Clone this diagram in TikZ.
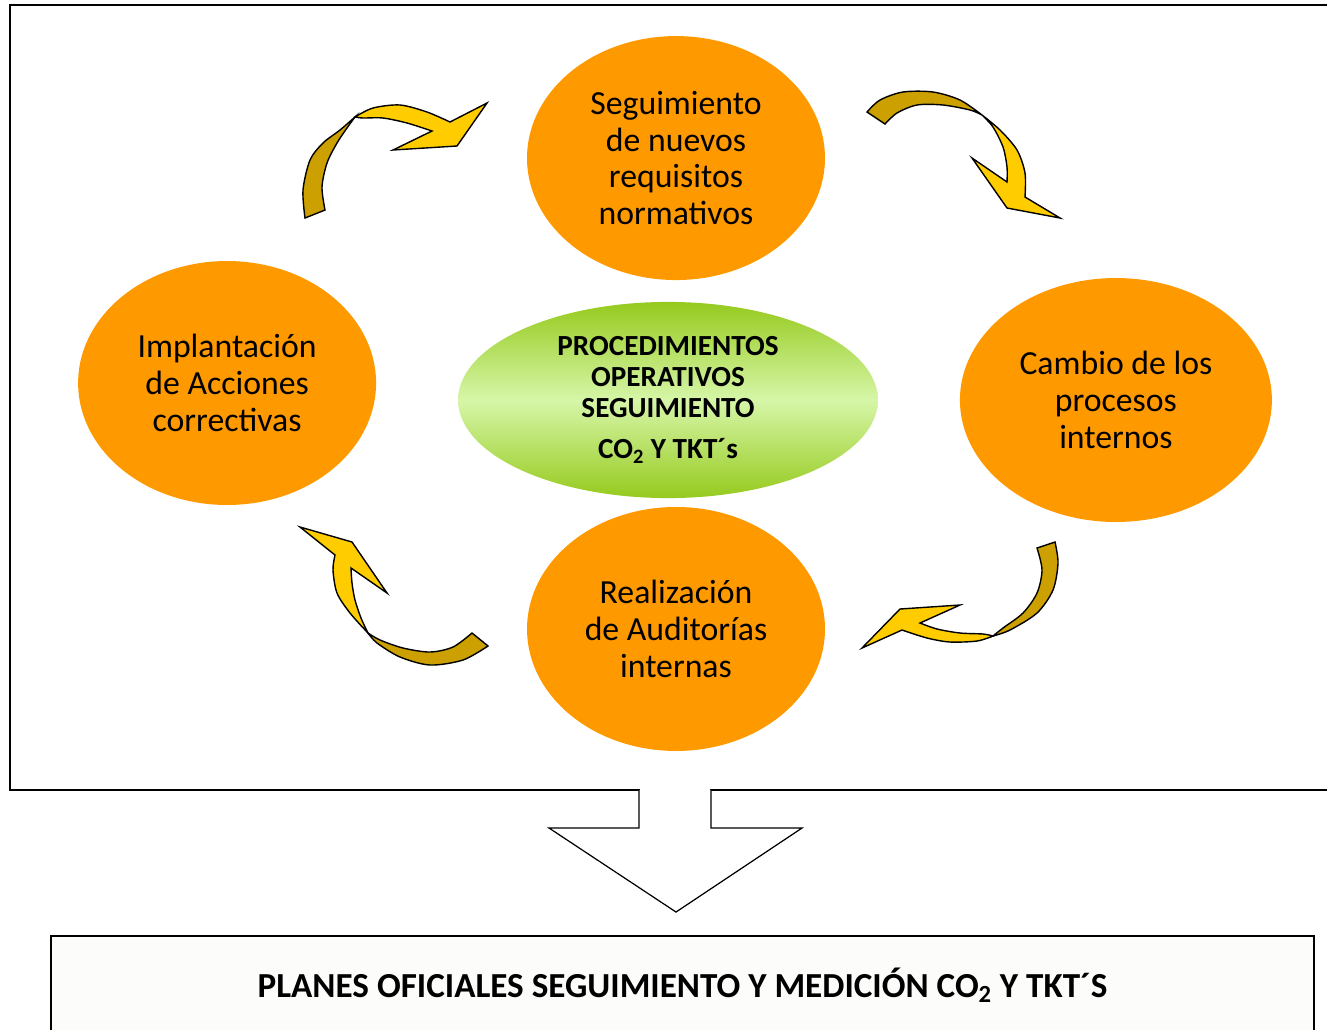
\documentclass[tikz,border=0pt]{standalone}
\usepackage{fontspec}
\setmainfont{Carlito}
\usepackage{tikz}
\usetikzlibrary{shapes.geometric,positioning}
\definecolor{naranja}{RGB}{255,153,0}
\definecolor{amarillo}{RGB}{255,204,0}
\definecolor{ocre}{RGB}{204,160,0}
\definecolor{verdeO}{RGB}{150,202,30}
\definecolor{verdeC}{RGB}{214,246,168}
\definecolor{caja}{RGB}{252,252,250}

\begin{document}
\begin{tikzpicture}[x=0.02cm,y=-0.02cm,node distance=2cm,on grid,
  stage/.style={ellipse,fill=naranja,minimum width=5.96cm,minimum height=4.88cm,
    align=center,font=\fontsize{19.2}{21}\selectfont},
  core/.style={ellipse,top color=verdeO,bottom color=verdeO,middle color=verdeC,
    minimum width=8.4cm,minimum height=3.92cm,align=center,
    font=\bfseries\fontsize{16.6}{17.6}\selectfont},
  flecha/.style={fill=amarillo,draw=black,line width=0.8pt},
  reves/.style={fill=ocre,draw=black,line width=0.8pt}]
  \useasboundingbox (0,0) rectangle (1327,1029);
  \clip (0,0) rectangle (1327,1029);

  \draw[line width=1.3pt] (10,5) rectangle (1345,790);

  \node[core] (n_proc) at (668,400) {PROCEDIMIENTOS\\OPERATIVOS\\SEGUIMIENTO\\[6pt]CO\textsubscript{2} Y TKT´s};
  \node[stage] (n_seg) [above right=4.84cm and 0.16cm of n_proc] {Seguimiento\\de nuevos\\requisitos\\normativos};
  \node[stage,minimum width=6.24cm] (n_camb) [right=8.96cm of n_proc] {Cambio de los\\procesos\\internos};
  \node[stage] (n_real) [below right=4.58cm and 0.16cm of n_proc] {Realización\\de Auditorías\\internas};
  \node[stage] (n_impl) [above left=0.34cm and 8.82cm of n_proc] {Implantación\\de Acciones\\correctivas};

  \filldraw[reves] plot[smooth] coordinates {(305,218) (303,190) (310,160) (323,143) (340,130) (355,117)}
    -- plot[smooth] coordinates {(355,117) (347,128) (337,143) (327,163) (322,187) (325,210)} -- cycle;
  \filldraw[flecha] plot[smooth] coordinates {(355,117) (373,108) (400,105) (427,112) (450,122)}
    -- (487,103) -- (457,146) -- (393,150) -- (432,131)
    -- plot[smooth] coordinates {(432,131) (407,123) (383,118) (363,118) (355,117)} -- cycle;

  \filldraw[reves] plot[smooth] coordinates {(867,112) (880,100) (903,92) (933,92) (960,100) (982,115)}
    -- plot[smooth] coordinates {(982,115) (970,110) (943,105) (917,105) (897,113) (885,124)} -- cycle;
  \filldraw[flecha] plot[smooth] coordinates {(982,115) (1000,130) (1017,150) (1025,173) (1025,197)}
    -- (1060,218) -- (1007,208) -- (972,158) -- (1007,182)
    -- plot[smooth] coordinates {(1007,182) (1007,167) (1003,147) (993,127) (982,115)} -- cycle;

  \filldraw[reves] plot[smooth] coordinates {(1055,542) (1058,563) (1053,590) (1037,613) (1010,630) (993,636)}
    -- plot[smooth] coordinates {(993,636) (1003,628) (1023,613) (1037,593) (1042,570) (1037,548)} -- cycle;
  \filldraw[flecha] plot[smooth] coordinates {(993,636) (977,641) (950,642) (927,638) (902,630)}
    -- (862,648) -- (900,609) -- (960,605) -- (920,623)
    -- plot[smooth] coordinates {(920,623) (937,629) (960,633) (983,634) (993,636)} -- cycle;

  \filldraw[reves] plot[smooth] coordinates {(488,646) (463,660) (430,665) (400,657) (377,643) (368,633)}
    -- plot[smooth] coordinates {(368,633) (380,640) (403,648) (430,652) (453,647) (472,633)} -- cycle;
  \filldraw[flecha] plot[smooth] coordinates {(368,633) (350,613) (337,593) (333,570) (335,555)}
    -- (300,527) -- (352,542) -- (387,593) -- (351,568)
    -- plot[smooth] coordinates {(351,568) (352,583) (355,600) (361,618) (368,633)} -- cycle;

  \fill[white] (640,786) rectangle (710,793);
  \path[fill=white,draw=black,line width=0.7pt] (639,790) -- (639,828) -- (549,828) -- (676,912)
    -- (802,828) -- (711,828) -- (711,790);

  \node[draw,fill=caja,line width=0.8pt,minimum width=25.26cm,minimum height=1.96cm,
    font=\bfseries\fontsize{20}{22}\selectfont] (n_plan) at (682.5,985)
    {PLANES OFICIALES SEGUIMIENTO Y MEDICIÓN CO\textsubscript{2} Y TKT´S};
\end{tikzpicture}
\end{document}
